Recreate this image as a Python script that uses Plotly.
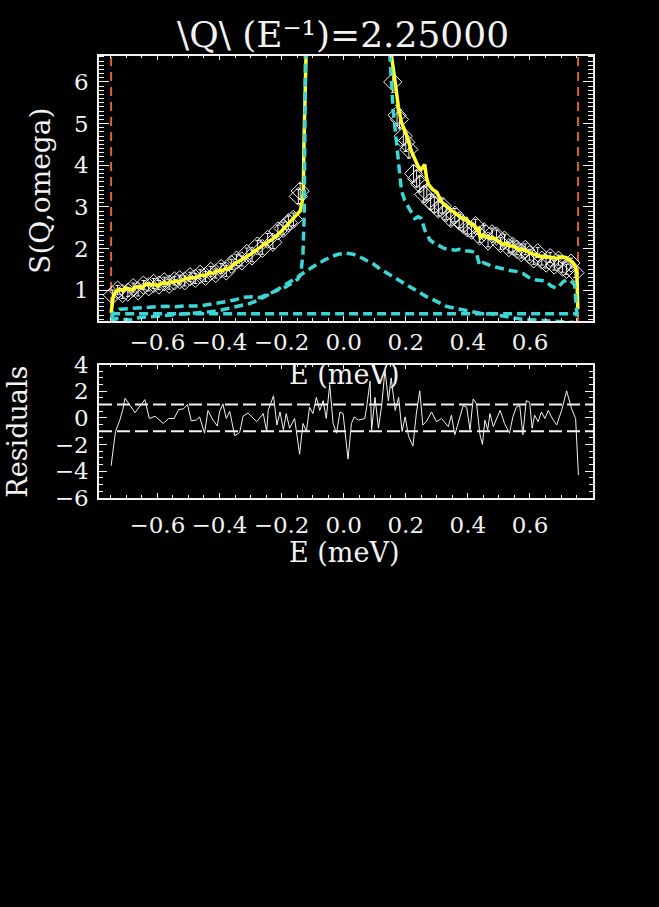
import plotly.graph_objects as go

W, H = 659, 907

# ---------------- data ----------------
title_text = "\\Q\\ (E⁻¹)=2.25000"

x_range = [-0.788, 0.803]
y_top_range = [0.26, 6.63]
y_res_range = [-6, 4]
limits = [-0.749, 0.755]          # red dashed fit-window lines
res_band = [-1, 1]                # white dashed residual band
background_level = 0.43           # flat cyan component

data_E = [-0.745, -0.728, -0.712, -0.695, -0.678, -0.662, -0.645, -0.628, -0.612, -0.595,
          -0.578, -0.562, -0.545, -0.528, -0.512, -0.495, -0.478, -0.462, -0.445, -0.428,
          -0.412, -0.395, -0.378, -0.362, -0.345, -0.328, -0.312, -0.295, -0.278, -0.262,
          -0.245, -0.228, -0.212, -0.195, -0.178, -0.162, -0.146, -0.140,
          0.158, 0.172, 0.180, 0.192, 0.200, 0.210, 0.225, 0.235, 0.245, 0.258,
          0.268, 0.280, 0.292, 0.305, 0.318, 0.330, 0.345, 0.358, 0.372, 0.385,
          0.398, 0.412, 0.425, 0.438, 0.452, 0.465, 0.478, 0.492, 0.505, 0.518,
          0.532, 0.545, 0.558, 0.572, 0.585, 0.598, 0.612, 0.625, 0.638, 0.652,
          0.665, 0.678, 0.692, 0.705, 0.718, 0.732, 0.745]
data_S = [0.88, 1.00, 0.92, 0.95, 1.06, 0.98, 1.12, 1.08, 1.16, 1.12,
          1.20, 1.14, 1.22, 1.25, 1.22, 1.32, 1.28, 1.38, 1.33, 1.45,
          1.40, 1.52, 1.46, 1.62, 1.72, 1.70, 1.88, 1.82, 2.06, 2.00,
          2.22, 2.15, 2.42, 2.48, 2.62, 2.70, 3.25, 3.38,
          6.00, 5.20, 5.10, 4.70, 4.55, 4.38, 3.80, 3.68, 3.55, 3.30,
          3.35, 3.12, 3.05, 2.95, 3.02, 2.86, 2.72, 2.80, 2.66, 2.58,
          2.50, 2.44, 2.55, 2.30, 2.40, 2.18, 2.35, 2.30, 2.12, 2.20,
          2.02, 2.05, 1.98, 1.90, 1.98, 1.85, 1.75, 1.90, 1.72, 1.65,
          1.78, 1.60, 1.72, 1.55, 1.50, 1.65, 1.42]
data_err = [0.12, 0.11, 0.12, 0.10, 0.11, 0.12, 0.11, 0.10, 0.12, 0.11,
            0.11, 0.12, 0.10, 0.11, 0.12, 0.11, 0.12, 0.11, 0.12, 0.12,
            0.11, 0.12, 0.13, 0.12, 0.13, 0.12, 0.13, 0.14, 0.13, 0.14,
            0.14, 0.15, 0.14, 0.15, 0.16, 0.15, 0.17, 0.18,
            0.25, 0.24, 0.23, 0.22, 0.22, 0.21, 0.20, 0.20, 0.19, 0.19,
            0.18, 0.18, 0.18, 0.17, 0.17, 0.17, 0.16, 0.16, 0.16, 0.16,
            0.15, 0.15, 0.15, 0.15, 0.15, 0.14, 0.14, 0.14, 0.14, 0.14,
            0.13, 0.13, 0.13, 0.13, 0.13, 0.13, 0.13, 0.12, 0.12, 0.12,
            0.12, 0.12, 0.12, 0.12, 0.12, 0.12, 0.12]

fit_E = [-0.749, -0.742, -0.733, -0.722, -0.711, -0.700, -0.690, -0.680, -0.670, -0.660,
         -0.650, -0.640, -0.630, -0.620, -0.610, -0.600, -0.590, -0.580, -0.570, -0.560,
         -0.550, -0.540, -0.530, -0.520, -0.510, -0.500, -0.490, -0.480, -0.470, -0.460,
         -0.450, -0.440, -0.430, -0.420, -0.410, -0.400, -0.390, -0.380, -0.370, -0.360,
         -0.350, -0.340, -0.330, -0.320, -0.310, -0.300, -0.290, -0.280, -0.270, -0.260,
         -0.250, -0.240, -0.230, -0.220, -0.210, -0.200, -0.190, -0.180, -0.170, -0.160,
         -0.150, -0.140, -0.134, -0.130, -0.128, -0.126, -0.123,
         -0.100, -0.050, 0.000, 0.050, 0.100, 0.130,
         0.152, 0.154, 0.165, 0.176, 0.186, 0.203, 0.219, 0.240, 0.250, 0.256,
         0.261, 0.267, 0.273, 0.286, 0.300, 0.315, 0.331, 0.345, 0.360, 0.374,
         0.385, 0.395, 0.405, 0.417, 0.429, 0.435, 0.439, 0.449, 0.459, 0.469,
         0.479, 0.492, 0.504, 0.514, 0.524, 0.534, 0.546, 0.558, 0.568, 0.578,
         0.588, 0.603, 0.618, 0.630, 0.642, 0.657, 0.673, 0.687, 0.702, 0.717,
         0.727, 0.738, 0.747, 0.751, 0.754]
fit_S = [0.45, 0.85, 0.98, 1.02, 0.98, 1.05, 1.03, 1.00, 1.07, 1.08,
         1.05, 1.12, 1.15, 1.12, 1.14, 1.10, 1.15, 1.18, 1.15, 1.20,
         1.18, 1.22, 1.20, 1.24, 1.28, 1.27, 1.30, 1.29, 1.33, 1.36,
         1.34, 1.38, 1.42, 1.40, 1.45, 1.47, 1.46, 1.52, 1.50, 1.58,
         1.65, 1.68, 1.72, 1.76, 1.80, 1.86, 1.92, 1.96, 2.02, 2.08,
         2.12, 2.18, 2.22, 2.28, 2.34, 2.42, 2.50, 2.58, 2.64, 2.72,
         2.80, 2.90, 3.10, 3.35, 4.50, 6.00, 8.00,
         14.0, 30.0, 45.0, 30.0, 16.0, 11.0,
         9.00, 6.63, 6.04, 5.41, 5.03, 4.71, 4.32, 3.97, 3.90, 3.95,
         4.02, 3.70, 3.54, 3.42, 3.35, 3.12, 3.00, 2.92, 2.85, 2.76,
         2.70, 2.72, 2.60, 2.57, 2.45, 2.48, 2.28, 2.33, 2.30, 2.25,
         2.27, 2.21, 2.15, 2.10, 2.12, 2.06, 2.06, 2.00, 1.96, 1.98,
         1.94, 1.88, 1.85, 1.82, 1.79, 1.80, 1.78, 1.76, 1.80, 1.78,
         1.72, 1.67, 1.55, 1.43, 0.54]

sharp_E = [-0.749, -0.742, -0.722, -0.692, -0.662, -0.632, -0.602, -0.572, -0.542, -0.512,
           -0.482, -0.462, -0.422, -0.392, -0.378, -0.352, -0.322, -0.292, -0.270, -0.247,
           -0.227, -0.203, -0.185, -0.163, -0.148, -0.138, -0.131, -0.127, -0.125, -0.123,
           -0.121, -0.100, 0.000, 0.100,
           0.146, 0.149, 0.154, 0.159, 0.168, 0.176, 0.186, 0.197, 0.208, 0.219,
           0.229, 0.240, 0.250, 0.261, 0.277, 0.293, 0.309, 0.325, 0.342, 0.359,
           0.373, 0.389, 0.406, 0.419, 0.427, 0.438, 0.449, 0.460, 0.474, 0.492,
           0.514, 0.535, 0.554, 0.577, 0.598, 0.621, 0.638, 0.653, 0.668, 0.686,
           0.697, 0.707, 0.717, 0.727, 0.737, 0.744, 0.751, 0.754]
sharp_S = [0.28, 0.45, 0.54, 0.56, 0.58, 0.60, 0.60, 0.61, 0.60, 0.62,
           0.61, 0.62, 0.67, 0.70, 0.72, 0.76, 0.83, 0.84, 0.82, 0.90,
           0.96, 1.03, 1.08, 1.18, 1.26, 1.38, 1.90, 2.84, 4.50, 6.70,
           9.00, 16.0, 50.0, 16.0,
           9.00, 6.63, 5.96, 5.34, 4.71, 4.05, 3.39, 3.15, 3.00, 2.85,
           2.72, 2.76, 2.72, 2.45, 2.21, 2.12, 2.06, 2.00, 1.98, 1.96,
           1.98, 1.94, 1.94, 1.92, 1.90, 1.59, 1.66, 1.63, 1.58, 1.55,
           1.50, 1.47, 1.45, 1.40, 1.30, 1.24, 1.23, 1.20, 1.10, 1.04,
           1.12, 1.20, 1.24, 1.24, 1.18, 1.12, 0.42, 0.20]

broad_E = [-0.746, -0.735, -0.710, -0.690, -0.657, -0.620, -0.590, -0.555, -0.525, -0.490,
           -0.461, -0.431, -0.401, -0.376, -0.356, -0.331, -0.301, -0.275, -0.252, -0.232,
           -0.212, -0.189, -0.167, -0.145, -0.122, -0.102, -0.082, -0.060, -0.038, -0.017,
           0.007, 0.031, 0.052, 0.074, 0.097, 0.117, 0.137, 0.160, 0.181, 0.203,
           0.226, 0.245, 0.265, 0.288, 0.310, 0.331, 0.355, 0.373, 0.394, 0.416,
           0.434, 0.454, 0.474, 0.494, 0.513, 0.533, 0.553, 0.573, 0.603, 0.633,
           0.663, 0.702, 0.742, 0.753]
broad_S = [0.20, 0.32, 0.30, 0.28, 0.34, 0.36, 0.38, 0.40, 0.42, 0.44,
           0.46, 0.48, 0.51, 0.55, 0.58, 0.63, 0.68, 0.76, 0.84, 0.93,
           1.02, 1.12, 1.22, 1.33, 1.45, 1.55, 1.64, 1.73, 1.81, 1.86,
           1.89, 1.86, 1.80, 1.71, 1.62, 1.51, 1.42, 1.32, 1.22, 1.12,
           1.02, 0.93, 0.85, 0.77, 0.68, 0.61, 0.57, 0.54, 0.50, 0.46,
           0.45, 0.42, 0.44, 0.40, 0.38, 0.35, 0.33, 0.30, 0.29, 0.27,
           0.25, 0.24, 0.22, 0.20]

res_E = [-0.749, -0.735, -0.721, -0.712, -0.704, -0.672, -0.640, -0.626, -0.607, -0.581,
         -0.564, -0.546, -0.532, -0.516, -0.503, -0.491, -0.475, -0.464, -0.448, -0.437,
         -0.421, -0.407, -0.400, -0.389, -0.378, -0.367, -0.351, -0.335, -0.324, -0.308,
         -0.280, -0.259, -0.248, -0.243, -0.226, -0.215, -0.205, -0.194, -0.185, -0.174,
         -0.158, -0.142, -0.131, -0.120, -0.110, -0.099, -0.088, -0.077, -0.066, -0.056,
         -0.045, -0.034, -0.023, -0.012, -0.002, 0.014, 0.025, 0.034, 0.047, 0.068,
         0.074, 0.085, 0.090, 0.101, 0.112, 0.123, 0.133, 0.144, 0.153, 0.166,
         0.177, 0.188, 0.198, 0.209, 0.223, 0.234, 0.245, 0.255, 0.266, 0.283,
         0.299, 0.315, 0.337, 0.347, 0.358, 0.369, 0.385, 0.396, 0.407, 0.417,
         0.428, 0.439, 0.447, 0.455, 0.464, 0.471, 0.482, 0.504, 0.518, 0.534,
         0.545, 0.556, 0.567, 0.577, 0.588, 0.599, 0.607, 0.615, 0.626, 0.637,
         0.648, 0.659, 0.669, 0.686, 0.702, 0.718, 0.734, 0.747, 0.752, 0.756]
res_val = [-3.6, -1.03, -0.17, 0.56, 1.47, 0.39, 1.37, -0.05, 0.12, -0.42,
           -0.05, -0.05, 0.61, 0.68, 1.0, -0.22, -0.17, 0.07, -1.15, 0.56,
           -0.17, -0.61, 0.44, 1.05, -0.05, 0.49, -1.34, -1.1, 0.12, 0.37,
           -0.29, 0.32, -1.03, 0.56, 1.66, -0.54, 0.44, -0.9, 0.32, -0.78,
           -0.05, -2.73, -0.42, -1.03, 0.8, 0.32, 1.54, 0.56, 1.29, -0.05,
           2.5, -0.42, -1.15, 0.44, 0.32, -3.1, -0.42, 0.07, -0.17, -0.05,
           0.8, 2.76, -0.9, 1.54, -0.78, 1.05, 3.6, 1.29, 3.0, 0.56,
           1.54, -1.03, 0.07, -1.39, -2.12, 0.32, 2.03, -0.54, -0.29, 0.44,
           -0.29, -0.05, -0.66, 0.2, -1.27, -0.29, 0.93, 0.8, -0.9, 1.42,
           1.05, -1.27, -2.0, -0.17, -0.9, 0.32, -0.66, 0.56, -0.42, -1.15,
           0.07, 0.8, 0.93, -1.27, 1.29, 1.17, -0.78, 0.2, -0.29, 0.44,
           -0.05, 0.56, 0.07, -0.54, 0.56, 2.03, 0.68, -0.05, -3.1, -4.3]

x_tickvals = [-0.6, -0.4, -0.2, 0.0, 0.2, 0.4, 0.6]
y_top_tickvals = [1, 2, 3, 4, 5, 6]
y_res_tickvals = [-6, -4, -2, 0, 2, 4]

# ---------------- styling ----------------
FONT = "DejaVu Serif"
WHITE = "#f2f2f2"
CYAN = "#3cd6d6"
YELLOW = "#ffff2a"
RED = "#e0622c"

fig = go.Figure()

# red fit-window limits
for xl in limits:
    fig.add_trace(go.Scatter(x=[xl, xl], y=y_top_range, mode="lines",
                             line=dict(color=RED, width=2, dash="9px,6px"),
                             xaxis="x", yaxis="y", hoverinfo="skip"))

# data with error bars
fig.add_trace(go.Scatter(x=data_E, y=data_S, mode="markers",
                         marker=dict(symbol="diamond-open", size=14,
                                     color=WHITE, line=dict(width=1, color=WHITE)),
                         error_y=dict(type="data", array=data_err, color=WHITE,
                                      thickness=1, width=2),
                         xaxis="x", yaxis="y"))

# fit
fig.add_trace(go.Scatter(x=fit_E, y=fit_S, mode="lines",
                         line=dict(color=YELLOW, width=3.5),
                         xaxis="x", yaxis="y"))

# components
comp_line = dict(color=CYAN, width=3.5, dash="9px,5px")
fig.add_trace(go.Scatter(x=sharp_E, y=sharp_S, mode="lines", line=comp_line,
                         xaxis="x", yaxis="y"))
fig.add_trace(go.Scatter(x=broad_E, y=broad_S, mode="lines", line=comp_line,
                         xaxis="x", yaxis="y"))
fig.add_trace(go.Scatter(x=limits, y=[background_level, background_level],
                         mode="lines", line=comp_line, xaxis="x", yaxis="y"))

# residuals
fig.add_trace(go.Scatter(x=res_E, y=res_val, mode="lines",
                         line=dict(color=WHITE, width=1),
                         xaxis="x2", yaxis="y2"))
for yb in res_band:
    fig.add_trace(go.Scatter(x=x_range, y=[yb, yb], mode="lines",
                             line=dict(color=WHITE, width=2, dash="13px,5px"),
                             xaxis="x2", yaxis="y2"))


def px_x(p):
    return p / W


def px_y(p):
    return 1 - p / H


tick_font = dict(family=FONT, size=23, color=WHITE)
common_x = dict(range=x_range, tickvals=x_tickvals, tickformat=".1f",
                ticks="inside", ticklen=5, tickcolor=WHITE, tickwidth=1,
                minor=dict(dtick=0.05, tick0=0, ticklen=3, ticks="inside",
                           tickcolor=WHITE, tickwidth=1),
                showline=True, linecolor=WHITE, linewidth=1.5, mirror="allticks",
                showgrid=False, zeroline=False, tickfont=tick_font,
                domain=[px_x(99), px_x(593)])

fig.update_layout(
    width=W, height=H, showlegend=False,
    paper_bgcolor="black", plot_bgcolor="black",
    margin=dict(l=0, r=0, t=0, b=0),
    xaxis=dict(anchor="y", ticklabelstandoff=0, **common_x),
    yaxis=dict(range=y_top_range, tickvals=y_top_tickvals, ticks="inside",
               ticklen=10, tickcolor=WHITE, tickwidth=1,
               minor=dict(dtick=0.1, tick0=0, ticklen=5, ticks="inside",
                          tickcolor=WHITE, tickwidth=1),
               showline=True, linecolor=WHITE, linewidth=1.5, mirror="allticks",
               showgrid=False, zeroline=False, tickfont=tick_font,
               ticklabelstandoff=4,
               domain=[px_y(317), px_y(44)], anchor="x"),
    xaxis2=dict(anchor="y2", ticklabelstandoff=6, **common_x),
    yaxis2=dict(range=y_res_range, tickvals=y_res_tickvals, ticks="inside",
                ticklen=8, tickcolor=WHITE, tickwidth=1,
                minor=dict(dtick=0.5, tick0=0, ticklen=4, ticks="inside",
                           tickcolor=WHITE, tickwidth=1),
                showline=True, linecolor=WHITE, linewidth=1.5, mirror="allticks",
                showgrid=False, zeroline=False, tickfont=tick_font,
                ticklabelstandoff=4,
                domain=[px_y(499), px_y(362)], anchor="x2"),
)

ann_font = dict(family=FONT, size=27, color=WHITE)
fig.add_annotation(text=title_text, x=px_x(343), y=px_y(22), xref="paper", yref="paper",
                   showarrow=False, font=dict(family=FONT, size=36, color=WHITE),
                   xanchor="center", yanchor="middle")
fig.add_annotation(text="S(Q,omega)", x=px_x(41), y=px_y(183), xref="paper", yref="paper",
                   showarrow=False, font=dict(family=FONT, size=28, color=WHITE),
                   textangle=-90, xanchor="center", yanchor="middle")
fig.add_annotation(text="E (meV)", x=px_x(344), y=px_y(372), xref="paper", yref="paper",
                   showarrow=False, font=ann_font, xanchor="center", yanchor="middle")
fig.add_annotation(text="Residuals", x=px_x(18), y=px_y(431), xref="paper", yref="paper",
                   showarrow=False, font=ann_font, textangle=-90,
                   xanchor="center", yanchor="middle")
fig.add_annotation(text="E (meV)", x=px_x(344), y=px_y(555), xref="paper", yref="paper",
                   showarrow=False, font=ann_font, xanchor="center", yanchor="middle")

fig.write_html("out.html",
               config={"displayModeBar": False},
               post_script="document.body.style.margin='0';"
                           "document.body.style.background='black';")
